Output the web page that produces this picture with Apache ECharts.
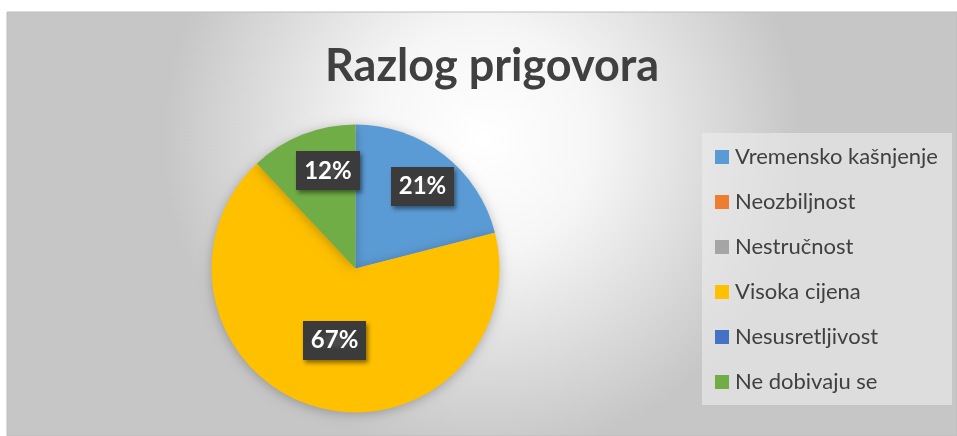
<!DOCTYPE html>
<html>
<head>
<meta charset="utf-8">
<script src="https://cdn.jsdelivr.net/npm/echarts@6/dist/echarts.min.js"></script>
<style>
html,body{margin:0;padding:0;background:#fff;}
#chart{width:957px;height:436px;}
</style>
</head>
<body>
<div id="chart"></div>
<script>
const titleText = 'Razlog prigovora';
const categories = ['Vremensko kašnjenje', 'Neozbiljnost', 'Nestručnost', 'Visoka cijena', 'Nesusretljivost', 'Ne dobivaju se'];
const values = [21, 0, 0, 67, 0, 12];
const colors = ['#5B9BD5', '#ED7D31', '#A5A5A5', '#FFC000', '#4472C4', '#70AD47'];
const labelShift = [[21, -23], [0, 0], [0, 0], [0, 0], [0, 0], [0, -28]];

// textured dark label background
const pat = document.createElement('canvas');
pat.width = 6; pat.height = 6;
(function(){
  const c = pat.getContext('2d');
  c.fillStyle = '#3b3b3b'; c.fillRect(0,0,6,6);
  c.fillStyle = '#4a4a4a'; c.fillRect(2,2,2,2);
})();

const chart = echarts.init(document.getElementById('chart'));
const data = categories.map((n, i) => ({
  name: n,
  value: values[i],
  label: { show: values[i] > 0 }
}));

chart.setOption({
  animation: false,
  color: colors,
  graphic: [
    {
      type: 'rect', z: -10, silent: true,
      shape: { x: 7, y: 12, width: 950, height: 424 },
      style: {
        fill: {
          type: 'radial', x: 0.5, y: 0.3, r: 0.75,
          colorStops: [
            { offset: 0, color: '#ffffff' },
            { offset: 0.35, color: '#f6f6f6' },
            { offset: 1, color: '#c6c6c6' }
          ]
        },
        stroke: '#bdbdbd', lineWidth: 1
      }
    },
    {
      type: 'rect', z: -9, silent: true,
      shape: { x: 702, y: 133, width: 250, height: 272 },
      style: { fill: 'rgba(236,236,236,0.6)' }
    }
  ],
  title: {
    text: titleText,
    left: 320,
    top: 39,
    textStyle: { fontFamily: 'Lato', fontWeight: 'bold', fontSize: 45, color: '#404040' }
  },
  legend: {
    orient: 'vertical',
    left: 715, top: 146,
    padding: 0,
    icon: 'rect',
    itemWidth: 14, itemHeight: 14,
    itemGap: 23,
    data: categories,
    textStyle: { fontFamily: 'Lato', fontSize: 22, lineHeight: 22, color: '#404040', padding: [0,0,0,1] }
  },
  series: [{
    type: 'pie',
    center: [355.5, 268.5],
    radius: [0, 144],
    startAngle: 90,
    clockwise: true,
    data: data,
    itemStyle: { shadowBlur: 12, shadowColor: 'rgba(0,0,0,0.25)', shadowOffsetY: 2 },
    emphasis: { disabled: true },
    label: {
      position: 'inside',
      formatter: '{d}%',
      fontFamily: 'Lato',
      fontWeight: 'bold',
      fontSize: 24,
      color: '#ffffff',
      backgroundColor: { image: pat },
      padding: [8, 8, 7, 8],
      shadowColor: 'rgba(0,0,0,0.45)',
      shadowBlur: 4,
      shadowOffsetX: 2,
      shadowOffsetY: 3
    },
    labelLayout: function (p) {
      const s = labelShift[p.dataIndex] || [0, 0];
      return { dx: s[0], dy: s[1] };
    }
  }]
});
</script>
</body>
</html>
